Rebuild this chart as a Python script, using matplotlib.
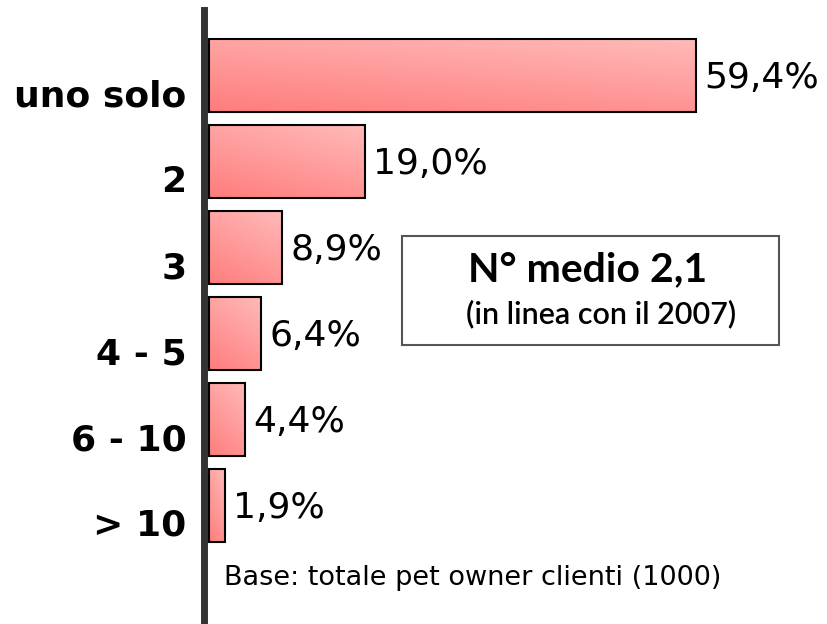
import numpy as np
import matplotlib
matplotlib.use("Agg")
import matplotlib.pyplot as plt
from matplotlib.patches import Rectangle
from matplotlib.transforms import ScaledTranslation

# numero di animali posseduti - quota dei pet owner clienti
categories = ["uno solo", "2", "3", "4 - 5", "6 - 10", "> 10"]
values = [59.4, 19.0, 8.9, 6.4, 4.4, 1.9]
value_labels = ["59,4%", "19,0%", "8,9%", "6,4%", "4,4%", "1,9%"]
box_title = "N° medio 2,1"
box_sub = "(in linea con il 2007)"
base_note = "Base: totale pet owner clienti (1000)"

W, H = 828, 624
fig = plt.figure(figsize=(W / 100, H / 100), dpi=100)
fig.patch.set_facecolor("white")

# axes placed in pixel terms so the thick left spine sits where the original one is
ax = fig.add_axes([204.5 / W, 0, (W - 204.5) / W, (H - 10) / H])
px_per_unit = 8.2
ax.set_xlim(-0.55, -0.55 + (W - 204.5) / px_per_unit)
ax.set_ylim(6.378, -0.762)

y = np.arange(len(categories))
bars = ax.barh(y, values, height=0.84, left=0, color="none",
               edgecolor="black", linewidth=1.5, zorder=3)

# gradient fill: darker red at the bottom-left, lighter pink towards the top-right
grad_x = np.linspace(0, 1, 64)
grad_y = np.linspace(0, 1, 32)
gx, gy = np.meshgrid(grad_x, grad_y)
t = np.clip(0.35 * gx + 0.65 * gy, 0, 1)
dark = np.array([255, 125, 125]) / 255
light = np.array([255, 185, 185]) / 255
img = dark[None, None, :] * (1 - t[..., None]) + light[None, None, :] * t[..., None]

for b in bars:
    x0, y_top = b.get_x(), b.get_y()
    w, h = b.get_width(), b.get_height()
    im = ax.imshow(img, extent=(x0, x0 + w, y_top + h, y_top), origin="lower",
                   aspect="auto", zorder=2, interpolation="bilinear")
    im.set_clip_path(b)

for yi, v, lab in zip(y, values, value_labels):
    ax.annotate(lab, (v, yi), xytext=(6, -2), textcoords="offset points",
                va="center", ha="left", fontsize=26, family="DejaVu Sans")

# imshow resets the limits
ax.set_xlim(-0.55, -0.55 + (W - 204.5) / px_per_unit)
ax.set_ylim(6.378, -0.762)

ax.set_yticks(y)
ax.set_yticklabels(categories, fontsize=26, fontweight="bold", family="DejaVu Sans")
ax.tick_params(axis="y", length=0, pad=13)
for lbl in ax.get_yticklabels():
    lbl.set_transform(lbl.get_transform() + ScaledTranslation(0, -0.17, fig.dpi_scale_trans))
ax.set_xticks([])

for s in ["top", "right", "bottom"]:
    ax.spines[s].set_visible(False)
ax.spines["left"].set_color("#333333")
ax.spines["left"].set_linewidth(5)

# riquadro con il numero medio
fig.patches.append(Rectangle((402 / W, 1 - 345 / H), (779 - 402) / W, (345 - 236) / H,
                             transform=fig.transFigure, facecolor="white",
                             edgecolor="#555555", linewidth=1.5, zorder=5))
fig.text(588 / W, 1 - 270 / H, box_title, ha="center", va="center",
         fontsize=29.5, fontweight="bold", family="Lato", zorder=6)
fig.text(601 / W, 1 - 314 / H, box_sub, ha="center", va="center",
         fontsize=22, fontweight="semibold", family="Lato", zorder=6)

fig.text(224 / W, 1 - 578 / H, base_note, ha="left", va="center",
         fontsize=19.5, family="DejaVu Sans")

fig.savefig("out.png", dpi=100)
